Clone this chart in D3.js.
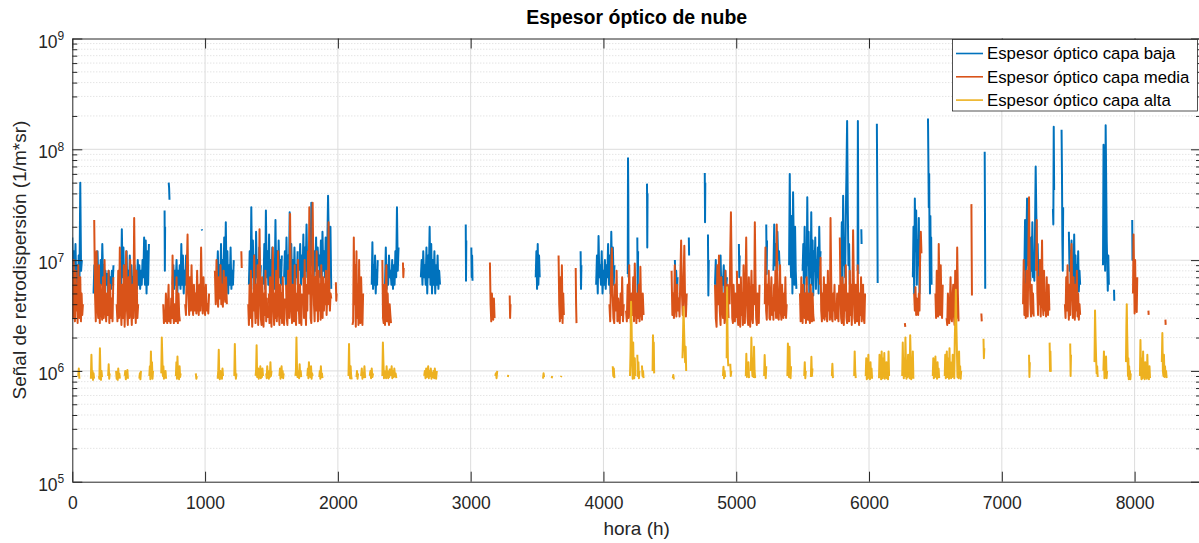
<!DOCTYPE html>
<html>
<head>
<meta charset="utf-8">
<script src="https://cdn.jsdelivr.net/npm/d3@7"></script>
<style>
  body { margin: 0; background: #fff; }
  svg { display: block; font-family: "Liberation Sans", Arial, sans-serif; }
</style>
</head>
<body>
<div id="chart"></div>
<script>
// #region Data
const seriesNames = ['Espesor óptico capa baja', 'Espesor óptico capa media', 'Espesor óptico capa alta'];
const seriesColors = ['#0072BD', '#D95319', '#EDB120'];
const xTicks = [0, 1000, 2000, 3000, 4000, 5000, 6000, 7000, 8000];
const yExponents = [5, 6, 7, 8, 9];

// runs of hourly readings: [first hour, hours between readings, values in 1e6 (1/m*sr)]
const bajaRuns = [
  [0, 6, [16, 7, 12, 5.5, 14, 6, 9, 5, 11, 6, 50, 8, 10]],
  [160, 6, [5, 9, 6, 11, 5, 12, 6, 8, 5.5, 10, 6, 14, 7, 9, 5.5, 8, 6, 7.5, 5, 8, 6, 7, 5.5, 8, 6, 9]],
  [355, 6, [6, 10, 5, 19, 7, 13, 5, 9, 6, 12, 5, 8, 6, 11, 5.5, 9, 6, 7, 5, 9, 6, 8, 5.5, 10, 6, 9, 5.5, 8, 6, 10, 7, 16, 6, 15, 5, 12, 6, 14]],
  [695, 2, [28, 8, 20]],
  [726, 3, [50, 45, 35]],
  [755, 6, [6, 9, 5.5, 8, 6, 10, 5, 8, 6, 9, 5.5, 14, 6, 11, 5, 8, 6, 11, 6, 7]],
  [975, 2, [19, 18.5]],
  [1090, 6, [7, 12, 5.5, 9, 6, 14, 5, 10, 6, 16, 7, 22, 6, 12, 5, 9, 6, 13, 5.5, 8, 6, 10]],
  [1330, 6, [6, 12, 5, 30, 7, 15, 5.5, 11, 6, 18, 7, 10, 5, 13, 6, 9]],
  [1440, 6, [6, 14, 5.5, 28, 7, 12, 6, 17, 5, 10, 6, 13, 7, 9, 5.5, 23, 6, 12, 5, 15, 7, 10, 6, 11]],
  [1595, 6, [7, 12, 6, 16, 5.5, 11, 6, 27, 7, 14, 6, 10, 5, 13, 6, 9, 7, 12]],
  [1710, 6, [8, 14, 6, 11, 7, 17, 6, 13, 8, 21, 7, 12, 6, 15, 8, 33, 9, 14, 7, 12, 8, 16, 6, 13, 9, 11, 7, 15, 6, 18, 8, 12, 7, 16, 6, 12, 38, 14, 7, 20, 5.5]],
  [2255, 5, [6, 14.5, 5.5, 9, 6, 11, 5, 8, 6, 10]],
  [2355, 6, [6, 13, 5.5, 9, 6, 11, 7, 8, 6, 10, 5.5, 9, 6, 12, 7, 30, 8, 13]],
  [2625, 6, [7, 10, 6, 12, 7, 9, 6, 13, 5, 11, 7, 20, 6, 14, 5, 10, 6, 12, 5, 9, 6, 11, 5.5, 8, 6]],
  [2963, 2, [21, 6.5, 15]],
  [3005, 3, [13, 7, 11, 6.5]],
  [3490, 5, [7, 12, 5.5, 14, 6, 11, 7]],
  [3828, 3, [12, 5.5, 9]],
  [3945, 6, [6, 11, 5, 16.5, 7, 9, 6, 12, 5, 8, 6, 10, 5.5, 9, 7, 14, 6, 11, 5, 18, 7, 13, 6, 9]],
  [4183, 2, [7.5, 83, 40, 7]],
  [4255, 3, [16, 4.5, 12]],
  [4328, 2, [49, 13, 40]],
  [4538, 5, [10, 5, 8, 4.8, 7]],
  [4643, 2, [16, 11]],
  [4763, 2, [61, 22, 50]],
  [4787, 3, [17, 4.8, 10]],
  [4840, 6, [6, 10, 5, 8, 4.6, 9, 5.5, 11, 5, 7, 6, 9, 5, 8, 5.5, 7]],
  [5020, 3, [14, 7, 11]],
  [5226, 3, [21, 7.5, 15]],
  [5280, 6, [8, 21, 9, 14, 8, 18, 10, 12, 8]],
  [5398, 5, [9, 60, 12, 7, 25, 5, 41, 14, 6, 20, 8, 5.5]],
  [5500, 5, [8, 14, 5, 20, 7, 12, 6, 37, 9, 18, 5, 11, 7, 27, 6, 15, 4.8, 12, 8, 16, 5.5, 10, 7, 13, 5, 20, 9, 12]],
  [5790, 5, [7, 22, 6, 38, 9, 15, 7, 25, 60, 180, 30, 9, 14, 6]],
  [5914, 2, [8, 180, 40, 7.5]],
  [5942, 2, [19, 14]],
  [6059, 2, [170, 60, 22, 6.2]],
  [6330, 5, [7, 20, 5, 36, 12, 28, 6, 15, 9, 24, 5, 11]],
  [6444, 3, [190, 80, 30, 60, 14, 5, 25, 9, 16, 6]],
  [6871, 2, [95, 30, 5.5]],
  [7170, 5, [8, 23, 6.2, 14, 36, 9, 20, 7, 12, 6.5, 16, 8, 22, 7, 11, 6.5, 18, 70, 25, 9, 14, 7, 10, 6.5]],
  [7385, 3, [29, 21, 160, 43]],
  [7450, 3, [150, 60, 15, 8, 30]],
  [7505, 5, [18, 8, 12, 6, 15, 5.2, 10, 7, 17, 6, 11, 5.5, 9, 6, 12, 5.2, 8, 6]],
  [7762, 4, [9, 110, 40, 20, 8, 165, 50, 15, 9, 5.3, 11, 6]],
  [7845, 2, [5.4, 4.3]],
  [7982, 2, [23, 10, 16]],
];

const mediaRuns = [
  [0, 5, [7, 3, 10, 4, 2.8, 8, 3.5, 6, 2.7, 9, 4, 3, 7, 2.8, 5, 3.2, 4]],
  [165, 6, [23, 5, 2.8, 12, 4, 3, 9, 2.7, 6, 3.5, 2.9, 7, 3, 10, 4, 2.8, 5, 3.2, 8, 2.7, 6, 3, 4.5, 2.8, 7]],
  [334, 6, [4, 2.8, 8, 3, 13, 4, 2.6, 6, 3, 9, 2.5, 5, 12, 3.5, 2.6, 7, 3, 10, 4, 2.6, 6, 3, 24, 5, 2.7, 8, 3, 4]],
  [685, 5, [4, 2.7, 3.5, 2.8, 5, 3, 2.7, 4, 6, 2.8, 3.5, 2.7, 4.5, 3, 11, 3.5, 2.7, 4, 3, 2.8, 7, 3, 2.7, 5, 3.2, 2.8]],
  [850, 6, [4, 3.2, 8, 17, 5, 3.2, 7, 3.5, 9, 4, 3.2, 6, 3.5, 5, 3.3, 8, 4, 3.2, 6, 3.5, 13, 5, 3.3, 7, 4, 3.2, 6, 3.5, 4, 3.3, 5]],
  [1074, 6, [8, 4, 10, 5, 3.8, 7, 4.5, 9, 4, 6, 3.8, 8, 5, 4.2, 7, 4]],
  [1273, 3, [12, 8.5]],
  [1325, 5, [4, 2.6, 6, 3, 8, 4, 2.5, 5, 3.5, 11, 4, 2.7, 6, 3, 9, 2.6, 5, 19, 6, 3, 2.6, 7, 4, 2.5, 5, 3.2, 8, 2.8, 4.5, 3]],
  [1480, 5, [5, 2.7, 7, 3.5, 2.5, 6, 13, 4, 2.6, 5, 3, 8, 2.8, 4, 12, 3.5, 2.6, 6, 3, 5, 2.7, 7, 3.2, 2.6, 4.5]],
  [1610, 5, [6, 3, 2.6, 8, 4, 3, 26, 7, 3.5, 2.7, 6, 4, 2.8, 9, 3.3, 2.6, 5, 3.5, 10, 4, 2.7, 6, 3, 2.6, 5]],
  [1740, 5, [7, 3, 10, 4, 2.6, 6, 3.5, 12, 5, 30, 8, 3, 2.7, 6, 33, 9, 4, 2.8, 7, 3.5, 12, 5, 2.8, 8, 3.5, 6, 2.9, 9, 4, 3, 7, 3.5, 6, 4, 8, 3.2, 5, 4, 22, 6, 3.5, 5, 4.5]],
  [1985, 3, [6.3, 4.3, 5]],
  [2110, 5, [2.6, 2.8, 16, 4, 9, 2.5, 12, 3, 6, 2.6, 10, 3.5, 2.7, 7, 4, 2.6, 5]],
  [2335, 5, [10, 3, 2.7, 6, 2.6, 4, 9, 2.8, 5, 3, 2.6, 4, 3.2, 2.7]],
  [2490, 3, [9.5, 7, 8.5]],
  [3145, 5, [9.5, 4, 2.8, 5, 3.5, 2.9, 4.5, 3]],
  [3294, 3, [4.8, 3, 4]],
  [3662, 5, [11, 4, 2.8, 7, 3, 9, 2.7, 5, 3.2]],
  [3791, 3, [8.5, 4, 2.7]],
  [4045, 6, [4, 2.8, 7, 12.8, 5, 3, 2.7, 6, 3.5, 8, 2.8, 4.5, 3, 2.7, 5, 3.2, 7, 2.8, 4]],
  [4170, 6, [3.5, 2.8, 6, 3, 9, 4, 2.7, 5, 3.2, 7, 2.8, 9.3, 4, 2.7, 5, 3, 6, 2.8, 8.7, 3.5, 2.9, 5, 3.2]],
  [4513, 6, [8, 3.2, 5, 3, 9, 4, 3.1, 6, 3.5, 4.5, 3.1, 7, 15, 5, 3.2, 6, 13.5, 4, 3.1, 5]],
  [4840, 6, [6, 3, 2.5, 9, 4, 11, 3.5, 2.6, 7, 4, 3, 5, 2.7, 8, 3.5, 2.6, 6, 3]],
  [4950, 5, [4, 12, 27, 9, 3, 2.7, 6, 4, 2.8, 5, 3]],
  [5005, 5, [8, 3, 2.6, 6, 4, 2.5, 7, 3.2, 5, 2.6, 9, 4, 2.7, 6, 16, 5, 3, 2.6, 7, 3.5, 2.5, 5, 8, 3, 2.7, 6, 4, 22, 7, 3, 2.6, 5, 3.5, 2.7, 6]],
  [5215, 5, [4, 13, 3.5, 2.9, 6, 4, 8, 3, 2.9, 5, 7, 3.2, 4.5, 2.9, 6, 3.5, 8, 3, 21, 6, 3, 2.9, 5, 9, 3.5, 2.9, 6, 4, 3, 5, 3.2, 7, 3, 4]],
  [5480, 5, [5, 2.8, 7, 3.5, 2.7, 6, 4, 3, 5, 2.7, 7, 3.5, 2.9, 5, 3, 2.7, 6, 4, 2.8, 5, 3.2, 2.8]],
  [5630, 5, [6, 10.5, 3.5, 2.8, 5, 3, 7, 2.9, 4, 6, 3.2, 2.8, 8, 3.5, 5, 2.9, 24, 7, 3, 2.8, 5, 3.5, 6, 2.9, 4, 3, 5, 3.2, 2.8, 6]],
  [5780, 5, [16, 5, 3, 2.7, 7, 4, 2.6, 6, 3.5, 9, 3, 2.7, 5, 4, 2.8, 8, 3.2, 6, 2.6, 5, 18.6, 7, 3, 2.7, 6, 4, 2.8, 9, 3.5, 2.6, 5, 3.2, 7, 2.8, 4, 6, 3, 2.7, 5]],
  [6270, 3, [2.7, 2.5]],
  [6340, 5, [5, 3.5, 5.7, 3.2, 4.5, 3.8, 3.2, 5, 3.5, 12, 18, 11.5]],
  [6500, 5, [5, 3, 8, 4, 3.1, 14, 6, 3.2, 9, 4, 3, 6]],
  [6584, 5, [3, 2.6, 5, 3.5, 2.7, 4, 7, 3, 2.8, 4.5, 6, 3.2, 2.6, 8, 4, 3, 13, 5, 2.8]],
  [6771, 2, [32, 12, 4.8]],
  [6846, 3, [3.3, 2.8]],
  [7160, 5, [4, 10, 3.2, 6, 3, 8, 4, 3.1, 12, 37, 8, 4, 3.1, 6, 3.3, 5, 3.1]],
  [7258, 5, [8, 23, 5, 3.2, 7, 4, 10, 3.1, 6, 15, 4, 3.2, 8, 3.5, 5, 3.1, 7, 4, 3.2, 6, 3.5]],
  [7475, 5, [4, 3, 7, 3.5, 9, 4, 2.9, 6, 3.2, 10, 14, 5, 3, 7, 4, 2.9, 6, 3.5, 8, 3.1, 5, 2.9, 4, 3.2]],
  [7988, 4, [5, 17, 8, 3.3, 10, 4.5, 6, 3.4, 7]],
  [8104, 2, [3.5, 3.2]],
  [8232, 2, [2.9, 2.6]],
];

const altaRuns = [
  [45, 4, [0.9, 1.05, 0.85]],
  [140, 4, [0.85, 1.4, 0.9, 1.0, 0.83, 0.95, 0.85]],
  [200, 4, [0.9, 0.85, 1.6, 0.95, 0.83, 1.0, 0.88]],
  [270, 4, [0.9, 1.15, 0.85, 0.95]],
  [330, 4, [1.0, 0.85, 0.95, 0.83, 1.05, 0.88, 0.95, 0.85]],
  [395, 4, [0.9, 1.0, 0.84, 0.95, 0.88, 1.02, 0.85]],
  [505, 4, [0.85, 0.95, 0.84, 1.0]],
  [580, 4, [0.9, 1.1, 0.84, 1.5, 0.9, 1.2, 0.85, 1.0]],
  [670, 4, [0.95, 2.0, 1.3, 0.9, 1.1, 0.85, 0.95, 0.88, 1.0, 0.85]],
  [780, 4, [0.9, 1.2, 0.85, 1.35, 0.9, 1.05, 0.84, 1.1, 0.88, 0.95]],
  [930, 4, [0.95, 0.85, 0.9]],
  [1095, 4, [0.85, 1.0, 1.55, 0.9, 0.84, 1.0, 0.88, 0.95, 0.85, 1.05, 0.9]],
  [1220, 4, [0.9, 1.75, 1.0, 0.85, 0.95]],
  [1380, 4, [0.9, 1.0, 1.7, 0.88, 0.95, 1.05, 0.85, 1.0, 0.9, 1.1, 0.86, 0.95, 0.88, 1.05, 0.9]],
  [1460, 4, [0.95, 0.86, 1.1, 0.9, 1.0, 0.85, 0.95, 0.88, 1.2, 0.9, 1.0]],
  [1560, 4, [0.9, 1.05, 0.85, 0.95, 1.1, 0.88, 1.0, 0.86, 0.95]],
  [1680, 4, [0.9, 1.0, 2.0, 1.1, 0.88, 0.95, 1.0, 0.86, 1.15, 0.9, 1.0, 0.88]],
  [1770, 4, [0.9, 1.05, 0.86, 1.2, 0.9, 1.0, 0.88, 1.1, 0.85, 0.95, 0.9]],
  [1860, 4, [0.88, 1.0, 0.85, 1.1, 0.9, 0.95, 0.86]],
  [2080, 4, [0.9, 1.75, 1.0, 0.86, 1.1, 0.9, 0.84]],
  [2140, 4, [0.88, 1.0, 0.85, 0.95]],
  [2175, 5, [0.9, 1.05, 0.85, 0.95, 0.88, 1.1, 0.86]],
  [2240, 5, [0.9, 1.0, 0.86, 1.05, 0.88, 0.95]],
  [2335, 4, [0.9, 1.8, 1.2, 0.86, 1.0, 0.88, 0.95, 0.86, 1.1, 0.9, 1.0, 0.86, 0.95, 0.88, 1.05]],
  [2400, 5, [0.9, 1.1, 0.86, 1.0, 0.88, 1.05, 0.9, 0.95, 0.86]],
  [2650, 5, [0.9, 1.0, 0.86, 1.05, 0.88, 0.95, 1.1, 0.86, 1.0, 0.9, 1.05, 0.85, 0.95, 0.88, 1.0, 0.86, 1.05, 0.9, 0.85, 1.0]],
  [3185, 5, [0.9, 0.95, 0.86, 1.0]],
  [3280, 3, [0.88, 0.92]],
  [3545, 4, [0.85, 0.95, 0.88]],
  [3610, 4, [0.86, 0.9]],
  [3680, 3, [0.88, 0.9]],
  [4070, 4, [1.1, 0.9, 1.05, 0.86]],
  [4200, 4, [0.9, 1.5, 4.2, 2.5, 1.2, 0.85, 1.8, 1.0, 0.86, 1.3, 0.9]],
  [4255, 4, [1.4, 0.9, 1.2, 0.86, 1.0]],
  [4290, 4, [1.12, 0.9, 1.0, 0.86]],
  [4370, 3, [1.0, 2.1, 1.4, 1.8, 0.95]],
  [4522, 4, [0.86, 0.92, 0.84]],
  [4595, 4, [1.3, 2.0, 3.8, 2.4, 1.6, 1.2, 1.65, 1.0]],
  [4900, 4, [0.9, 1.09, 0.86, 1.0, 0.88]],
  [4928, 3, [1.3, 5.7, 2.5, 1.3, 1.1]],
  [4955, 4, [1.16, 0.9, 1.0]],
  [5072, 4, [0.9, 1.43, 0.88, 1.1, 0.92, 1.2, 0.86]],
  [5110, 4, [1.0, 2.0, 1.1, 0.9, 1.3, 0.88, 1.65, 1.0, 0.86]],
  [5210, 4, [0.9, 1.39, 1.0, 0.86, 1.1]],
  [5385, 4, [0.9, 1.77, 1.2, 0.88, 1.65, 1.0, 0.86, 1.1]],
  [5512, 4, [0.9, 1.2, 0.86, 1.0]],
  [5562, 4, [0.88, 1.34, 0.9, 1.05]],
  [5720, 4, [0.9, 1.16, 0.86]],
  [5888, 4, [0.9, 1.5, 1.0, 0.86]],
  [5975, 4, [0.9, 1.3, 0.84, 1.1, 0.86, 1.4, 0.9, 1.0, 0.84, 1.2, 0.88, 1.05, 0.85]],
  [6075, 4, [0.86, 1.4, 0.9, 1.1, 0.84, 1.5, 1.0, 0.86, 1.3, 0.9, 1.45, 0.85, 1.0, 0.88, 1.2, 0.86, 1.05, 0.84, 1.5, 0.9]],
  [6250, 4, [0.9, 1.8, 1.0, 0.86, 1.3, 0.9, 2.0, 1.2, 0.85, 1.1, 0.88, 1.4, 0.9, 1.0, 0.86, 2.1, 1.3, 0.84, 1.0, 0.9, 1.5, 0.85]],
  [6480, 4, [0.9, 1.3, 0.86, 1.1, 0.88, 1.35, 0.9, 1.0, 0.85, 1.2, 0.88, 1.05, 0.86]],
  [6570, 4, [0.9, 1.4, 0.86, 1.1, 1.5, 0.88, 1.0, 1.3, 0.85, 1.6, 0.9, 1.2, 0.86, 1.0, 0.88, 1.4, 0.9, 1.1, 0.86, 2.0, 3.0, 5.4, 2.5, 1.5, 0.88, 1.2, 0.86, 1.5, 0.9, 1.1, 0.85, 1.0]],
  [6862, 3, [1.95, 1.3, 1.6]],
  [7205, 3, [1.4, 0.88, 1.2]],
  [7360, 3, [1.8, 1.0, 1.5, 0.98]],
  [7515, 3, [1.77, 0.9, 1.4]],
  [7698, 4, [1.2, 3.5, 2.0, 1.3, 0.95, 1.1, 0.88]],
  [7765, 4, [1.0, 1.5, 0.86, 1.2, 0.9, 1.35, 0.86, 1.0]],
  [7935, 3, [1.2, 2.5, 4.0, 2.2, 1.5, 0.9, 1.3, 0.84, 1.1, 0.86, 1.0, 0.84, 0.95]],
  [8040, 4, [0.9, 1.9, 1.0, 0.84, 1.3, 0.86, 1.5, 0.9, 1.1, 0.84, 1.2, 0.88, 1.0, 0.85, 1.4, 0.9, 1.0, 0.84, 1.1, 0.86]],
  [8205, 4, [1.2, 2.2, 1.0, 0.9, 1.4, 0.88, 1.1, 0.9, 1.0, 0.86]],
];
// #endregion

// #region Setup
const width = 1199;
const height = 543;
const plot = { left: 72.3, right: 1201, top: 38.5, bottom: 481.7 };
const axisColor = '#262626';

const svg = d3.select('#chart').append('svg')
  .attr('width', width)
  .attr('height', height);

const x = d3.scaleLinear().domain([0, 8500]).range([plot.left, plot.right]);
const y = d3.scaleLog().domain([1e5, 1e9]).range([plot.bottom, plot.top]);

const decades = yExponents.map(e => Math.pow(10, e));
const minorValues = [];
yExponents.slice(0, -1).forEach(e => {
  for (let m = 2; m <= 9; m++) minorValues.push(m * Math.pow(10, e));
});
// #endregion

// #region Grid
const grid = svg.append('g');
grid.selectAll('.minor')
  .data(minorValues)
  .enter()
  .append('line')
  .attr('x1', plot.left).attr('x2', plot.right)
  .attr('y1', d => y(d)).attr('y2', d => y(d))
  .attr('stroke', '#cfcfcf')
  .attr('stroke-width', 0.8)
  .attr('stroke-dasharray', '1,2');

grid.selectAll('.hmajor')
  .data(decades.slice(1, -1))
  .enter()
  .append('line')
  .attr('x1', plot.left).attr('x2', plot.right)
  .attr('y1', d => y(d)).attr('y2', d => y(d))
  .attr('stroke', '#dcdcdc')
  .attr('stroke-width', 1);

grid.selectAll('.vmajor')
  .data(xTicks.slice(1))
  .enter()
  .append('line')
  .attr('x1', d => x(d)).attr('x2', d => x(d))
  .attr('y1', plot.top).attr('y2', plot.bottom)
  .attr('stroke', '#dcdcdc')
  .attr('stroke-width', 1);
// #endregion

// #region Series
svg.append('clipPath').attr('id', 'plot-clip')
  .append('rect')
  .attr('x', plot.left).attr('y', plot.top)
  .attr('width', plot.right - plot.left).attr('height', plot.bottom - plot.top);

function toPoints(runs) {
  const pts = [];
  runs.forEach(([start, step, values]) => {
    values.forEach((v, i) => pts.push([start + i * step, v * 1e6]));
    pts.push(null);
  });
  return pts;
}

const line = d3.line()
  .defined(d => d !== null)
  .x(d => x(d[0]))
  .y(d => y(d[1]));

const seriesData = [bajaRuns, mediaRuns, altaRuns].map(toPoints);

svg.append('g')
  .attr('clip-path', 'url(#plot-clip)')
  .selectAll('path')
  .data(seriesData)
  .enter()
  .append('path')
  .attr('d', line)
  .attr('fill', 'none')
  .attr('stroke', (d, i) => seriesColors[i])
  .attr('stroke-width', 2)
  .attr('stroke-linejoin', 'round');
// #endregion

// #region Axes
function styleAxis(g) {
  g.selectAll('path, line').attr('stroke', axisColor);
  g.selectAll('text')
    .attr('fill', axisColor)
    .style('font-size', '17.5px')
    .style('font-family', '"Liberation Sans", Arial, sans-serif');
}

svg.append('g')
  .attr('transform', `translate(0,${plot.bottom})`)
  .call(d3.axisBottom(x).tickValues(xTicks).tickSize(-10).tickSizeOuter(0).tickPadding(15).tickFormat(d3.format('d')))
  .call(styleAxis);

svg.append('g')
  .attr('transform', `translate(0,${plot.top})`)
  .call(d3.axisTop(x).tickValues(xTicks).tickSize(-10).tickSizeOuter(0).tickFormat(''))
  .call(styleAxis);

svg.append('g')
  .attr('transform', `translate(${plot.left},0)`)
  .call(d3.axisLeft(y).tickValues(decades).tickSize(-10).tickSizeOuter(0).tickFormat(''))
  .call(styleAxis);

svg.append('g')
  .attr('transform', `translate(${plot.left},0)`)
  .call(d3.axisLeft(y).tickValues(minorValues).tickSize(-5).tickSizeOuter(0).tickFormat(''))
  .call(g => g.select('.domain').remove())
  .call(styleAxis);

svg.append('g')
  .attr('transform', `translate(${plot.right},0)`)
  .call(d3.axisRight(y).tickValues(decades).tickSize(-10).tickSizeOuter(0).tickFormat(''))
  .call(styleAxis);

svg.append('g')
  .attr('transform', `translate(${plot.right},0)`)
  .call(d3.axisRight(y).tickValues(minorValues).tickSize(-5).tickSizeOuter(0).tickFormat(''))
  .call(g => g.select('.domain').remove())
  .call(styleAxis);

const yLabels = svg.append('g')
  .selectAll('text')
  .data(yExponents)
  .enter()
  .append('text')
  .attr('x', plot.left - 8)
  .attr('y', e => y(Math.pow(10, e)) + 9)
  .attr('text-anchor', 'end')
  .attr('fill', axisColor)
  .style('font-size', '17.5px');
yLabels.append('tspan').text('10');
yLabels.append('tspan')
  .attr('dy', -7.5)
  .style('font-size', '12px')
  .text(e => e);
// #endregion

// #region Titles
svg.append('text')
  .attr('x', (plot.left + plot.right) / 2)
  .attr('y', 24)
  .attr('text-anchor', 'middle')
  .attr('fill', '#000')
  .style('font-size', '19.5px')
  .style('font-weight', 'bold')
  .text('Espesor óptico de nube');

svg.append('text')
  .attr('x', (plot.left + plot.right) / 2)
  .attr('y', 535)
  .attr('text-anchor', 'middle')
  .attr('fill', axisColor)
  .style('font-size', '19px')
  .text('hora (h)');

svg.append('text')
  .attr('transform', `translate(26,${(plot.top + plot.bottom) / 2}) rotate(-90)`)
  .attr('text-anchor', 'middle')
  .attr('fill', axisColor)
  .style('font-size', '19px')
  .text('Señal de retrodispersión (1/m*sr)');
// #endregion

// #region Legend
const legend = svg.append('g');
legend.append('rect')
  .attr('x', 952.5).attr('y', 39.5)
  .attr('width', 245).attr('height', 71.5)
  .attr('fill', '#fff')
  .attr('stroke', axisColor)
  .attr('stroke-width', 0.8);

const legendRows = legend.selectAll('g')
  .data(seriesNames)
  .enter()
  .append('g')
  .attr('transform', (d, i) => `translate(0,${53.5 + i * 23.3})`);

legendRows.append('line')
  .attr('x1', 956).attr('x2', 983)
  .attr('stroke', (d, i) => seriesColors[i])
  .attr('stroke-width', 1.6);

legendRows.append('text')
  .attr('x', 987)
  .attr('dy', '0.35em')
  .attr('fill', '#000')
  .style('font-size', '16.8px')
  .text(d => d);
// #endregion
</script>
</body>
</html>
